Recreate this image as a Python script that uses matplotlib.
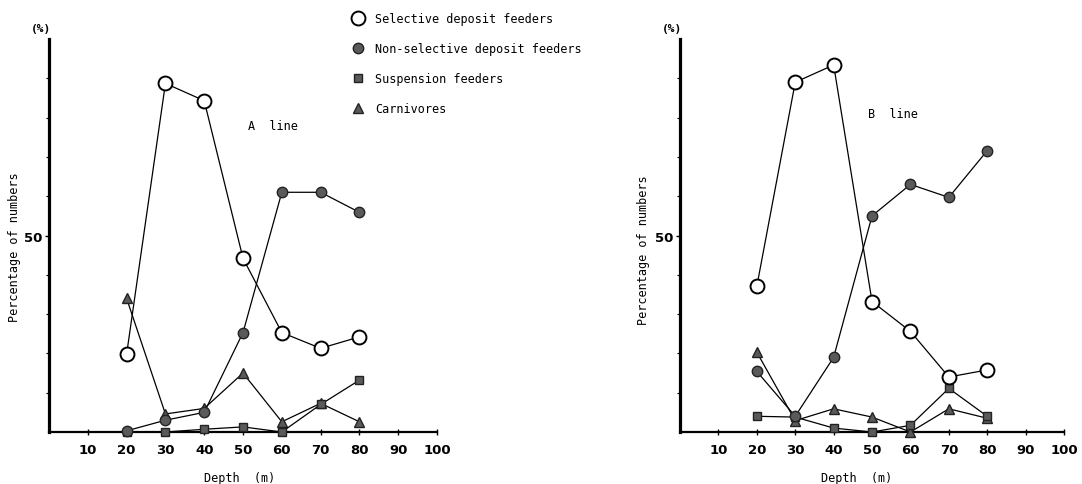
import matplotlib; matplotlib.use("Agg")
import matplotlib.pyplot as plt
from matplotlib.lines import Line2D

depths = [20, 30, 40, 50, 60, 70, 80]

# A line (% of numbers)
a_selective = [19.8, 88.7, 84.3, 44.2, 25.3, 21.3, 24.2]
a_nonselective = [0.3, 3.0, 5.0, 25.3, 61.0, 61.0, 55.9]
a_suspension = [0.0, 0.0, 0.7, 1.3, 0.0, 7.0, 13.2]
a_carnivores = [34.0, 4.6, 6.0, 15.0, 2.6, 7.3, 2.6]

# B line (% of numbers)
b_selective = [37.1, 89.0, 93.4, 33.2, 25.6, 14.0, 15.8]
b_nonselective = [15.4, 4.0, 19.0, 55.0, 63.0, 59.7, 71.6]
b_suspension = [4.0, 3.8, 1.0, 0.0, 1.7, 11.1, 4.0]
b_carnivores = [20.3, 2.9, 5.9, 3.8, 0.0, 5.9, 3.5]

groups = ["Selective deposit feeders", "Non-selective deposit feeders",
          "Suspension feeders", "Carnivores"]
x_ticks = [10, 20, 30, 40, 50, 60, 70, 80, 90, 100]

TEXT_FONT = ["DejaVu Sans Mono"]
NUM_FONT = ["Liberation Sans Narrow", "DejaVu Sans"]
DARK = "#5a5a5a"

# marker styles, in the same order as groups
styles = [
    dict(marker="o", ms=10, mfc="white", mec="black", mew=1.4),
    dict(marker="o", ms=7.5, mfc=DARK, mec="#222222", mew=1.0),
    dict(marker="s", ms=6, mfc=DARK, mec="#222222", mew=1.0),
    dict(marker="^", ms=7, mfc=DARK, mec="#222222", mew=1.0),
]


def draw_panel(ax, series, title, title_xy, xlabel_x, ylabel_xy):
    # draw bottom series first so the open circles sit on top
    for vals, st, z in zip(reversed(series), reversed(styles), [3, 4, 5, 6]):
        ax.plot(depths, vals, color="black", lw=0.9, clip_on=False, zorder=z, **st)

    ax.set_xlim(0, 100)
    ax.set_ylim(0, 100)
    for side in ("top", "right"):
        ax.spines[side].set_visible(False)
    ax.spines["left"].set_linewidth(2.3)
    ax.spines["bottom"].set_linewidth(1.6)

    ax.set_xticks(x_ticks)
    ax.set_xticklabels([str(t) for t in x_ticks], family=NUM_FONT,
                       fontweight="bold", fontsize=9.5)
    ax.tick_params(axis="x", direction="inout", length=4, width=1, pad=6)
    ax.set_yticks([50])
    ax.set_yticklabels(["50"], family=NUM_FONT, fontweight="bold", fontsize=9.5)
    ax.set_yticks(range(10, 100, 10), minor=True)
    ax.tick_params(axis="y", which="major", direction="out", length=3, width=1, pad=2)
    ax.tick_params(axis="y", which="minor", direction="out", length=2, width=0.8)

    ax.set_xlabel("Depth  (m)", family=TEXT_FONT, fontsize=8.5)
    ax.xaxis.set_label_coords(xlabel_x, -0.1)
    ax.set_ylabel("Percentage of numbers", family=TEXT_FONT, fontsize=8.5)
    ax.yaxis.set_label_coords(*ylabel_xy)
    ax.yaxis.label.set_va("center")
    ax.text(-2, 101.5, "(%)", family=TEXT_FONT, fontsize=8, fontweight="bold",
            ha="center", va="bottom")
    ax.text(title_xy[0], title_xy[1], title, family=TEXT_FONT, fontsize=8.5,
            ha="center", va="center")


fig = plt.figure(figsize=(10.82, 4.85), dpi=100)
ax_a = fig.add_axes([0.0453, 0.1072, 0.3586, 0.8103])
ax_b = fig.add_axes([0.6285, 0.1072, 0.3549, 0.8103])

draw_panel(ax_a, [a_selective, a_nonselective, a_suspension, a_carnivores],
           "A  line", (57.7, 78), 0.492, (-0.088, 0.473))
draw_panel(ax_b, [b_selective, b_nonselective, b_suspension, b_carnivores],
           "B  line", (55.5, 81), 0.46, (-0.094, 0.466))

handles = [Line2D([], [], ls="none", **st) for st in styles]
fig.legend(handles, groups, loc="upper left", bbox_to_anchor=(0.316, 0.995),
           frameon=False, prop={"family": TEXT_FONT, "size": 8.5},
           handlelength=1.0, handletextpad=0.9, labelspacing=1.45)

fig.savefig("out.png", dpi=100)
